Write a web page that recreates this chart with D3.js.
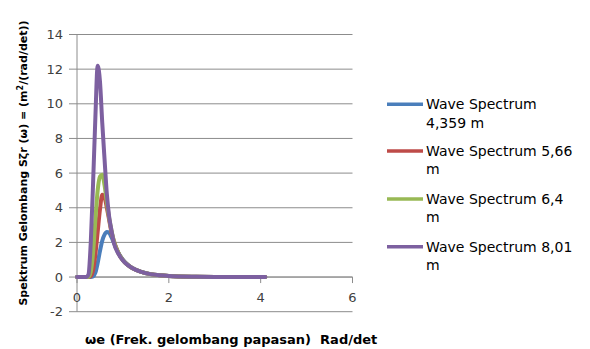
<!DOCTYPE html>
<html>
<head>
<meta charset="utf-8">
<script src="https://cdn.jsdelivr.net/npm/d3@7"></script>
<style>
  html, body { margin: 0; padding: 0; background: #fff; }
  svg { display: block; }
</style>
</head>
<body>
<svg id="chart" width="590" height="349"></svg>
<script>
// Encounter frequency ωe (rad/det)
const omega = [0, 0.1, 0.2, 0.25, 0.3, 0.35, 0.4, 0.45, 0.5, 0.55, 0.6, 0.65, 0.7, 0.75,
               0.8, 0.9, 1.0, 1.1, 1.2, 1.4, 1.6, 1.8, 2.0, 2.5, 3.0, 3.5, 4.1];

// Spectrum values S(ωe) for each significant wave height
const spec4359 = [0, 0, 0, 0, 0, 0.03, 0.25, 0.8, 1.5, 2.1, 2.45, 2.6, 2.55, 2.3,
                  2.0, 1.4, 1.0, 0.72, 0.53, 0.3, 0.17, 0.1, 0.06, 0.02, 0.01, 0.005, 0];
const spec566  = [0, 0, 0, 0, 0.05, 0.4, 1.3, 2.6, 3.9, 4.75, 4.6, 4.0, 3.3, 2.6,
                  2.1, 1.4, 0.97, 0.71, 0.52, 0.3, 0.17, 0.1, 0.06, 0.02, 0.01, 0.005, 0];
const spec64   = [0, 0, 0, 0, 0.3, 1.4, 3.3, 5.0, 5.8, 5.9, 5.3, 4.3, 3.4, 2.7,
                  2.1, 1.4, 0.97, 0.71, 0.52, 0.3, 0.17, 0.1, 0.06, 0.02, 0.01, 0.005, 0];
const spec801  = [0, 0, 0, 0.15, 2.0, 5.4, 9.2, 12.2, 11.3, 8.9, 6.8, 4.8, 3.5, 2.7,
                  2.0, 1.35, 0.95, 0.7, 0.52, 0.3, 0.17, 0.1, 0.06, 0.02, 0.01, 0.005, 0];

const seriesNames  = ["Wave Spectrum 4,359 m", "Wave Spectrum 5,66 m", "Wave Spectrum 6,4 m", "Wave Spectrum 8,01 m"];
const legendLines  = [["Wave Spectrum", "4,359 m"], ["Wave Spectrum 5,66", "m"], ["Wave Spectrum 6,4", "m"], ["Wave Spectrum 8,01", "m"]];
const seriesColors = ["#4a7ebb", "#be4b48", "#98b954", "#7d60a0"];
const seriesValues = [spec4359, spec566, spec64, spec801];

const xTicks = [0, 2, 4, 6];
const yTicks = [-2, 0, 2, 4, 6, 8, 10, 12, 14];

const svg = d3.select("#chart");
const font = "'DejaVu Sans', Verdana, sans-serif";

const x = d3.scaleLinear().domain([0, 6]).range([77, 352.5]);
const y = d3.scaleLinear().domain([-2, 14]).range([311.7, 34.5]);

// Horizontal gridlines (with outward tick stubs on the left)
svg.append("g").selectAll("line").data(yTicks).join("line")
  .attr("x1", 69).attr("x2", x(6))
  .attr("y1", d => y(d)).attr("y2", d => y(d))
  .attr("stroke", "#8c8c8c").attr("stroke-width", 1);

// Vertical value axis
svg.append("line")
  .attr("x1", x(0)).attr("x2", x(0)).attr("y1", y(14)).attr("y2", y(-2))
  .attr("stroke", "#8c8c8c");

// Horizontal axis crossing at zero, with tick marks
svg.append("line")
  .attr("x1", x(0)).attr("x2", x(6)).attr("y1", y(0)).attr("y2", y(0))
  .attr("stroke", "#8c8c8c");
svg.append("g").selectAll("line").data(xTicks).join("line")
  .attr("x1", d => x(d)).attr("x2", d => x(d))
  .attr("y1", y(0)).attr("y2", y(0) + 6)
  .attr("stroke", "#8c8c8c");

// Y tick labels
svg.append("g").selectAll("text").data(yTicks).join("text")
  .attr("x", 63).attr("y", d => y(d))
  .attr("dy", "0.35em")
  .attr("text-anchor", "end")
  .attr("font-family", font).attr("font-size", 13).attr("fill", "#404040")
  .text(d => d);

// X tick labels
svg.append("g").selectAll("text").data(xTicks).join("text")
  .attr("x", d => x(d)).attr("y", 297)
  .attr("dy", "0.35em")
  .attr("text-anchor", "middle")
  .attr("font-family", font).attr("font-size", 13).attr("fill", "#404040")
  .text(d => d);

// Spectrum curves
const line = d3.line()
  .x((d, i) => x(omega[i]))
  .y(d => y(d))
  .curve(d3.curveMonotoneX);

svg.append("g").selectAll("path").data(seriesValues).join("path")
  .attr("d", d => line(d))
  .attr("fill", "none")
  .attr("stroke", (d, i) => seriesColors[i])
  .attr("stroke-width", 4)
  .attr("stroke-linejoin", "round")
  .attr("stroke-linecap", "round");

// Legend
const legendY = [104.3, 151, 199, 246.7];
const legend = svg.append("g").selectAll("g").data(seriesNames).join("g")
  .attr("transform", (d, i) => `translate(0,${legendY[i]})`);
legend.append("line")
  .attr("x1", 387).attr("x2", 423).attr("y1", 0).attr("y2", 0)
  .attr("stroke", (d, i) => seriesColors[i]).attr("stroke-width", 3.5);
legend.append("text")
  .attr("font-family", font).attr("font-size", 14).attr("fill", "#000")
  .selectAll("tspan").data((d, i) => legendLines[i]).join("tspan")
  .attr("x", 426).attr("y", (d, j) => j * 18.5).attr("dy", "0.35em")
  .text(d => d);

// Axis titles
svg.append("text")
  .attr("x", 85).attr("y", 339).attr("dy", "0.35em")
  .attr("font-family", font).attr("font-size", 13).attr("font-weight", "bold").attr("fill", "#000")
  .attr("xml:space", "preserve")
  .text("ωe (Frek. gelombang papasan)  Rad/det");

const yTitle = svg.append("text")
  .attr("transform", "translate(23,163) rotate(-90)")
  .attr("text-anchor", "middle").attr("dy", "0.35em")
  .attr("font-family", font).attr("font-size", 11).attr("font-weight", "bold").attr("fill", "#000");
yTitle.append("tspan").text("Spektrum Gelombang Sζr (ω) = (m");
yTitle.append("tspan").attr("baseline-shift", "super").attr("font-size", 8).text("2");
yTitle.append("tspan").text("/(rad/det))");
</script>
</body>
</html>
